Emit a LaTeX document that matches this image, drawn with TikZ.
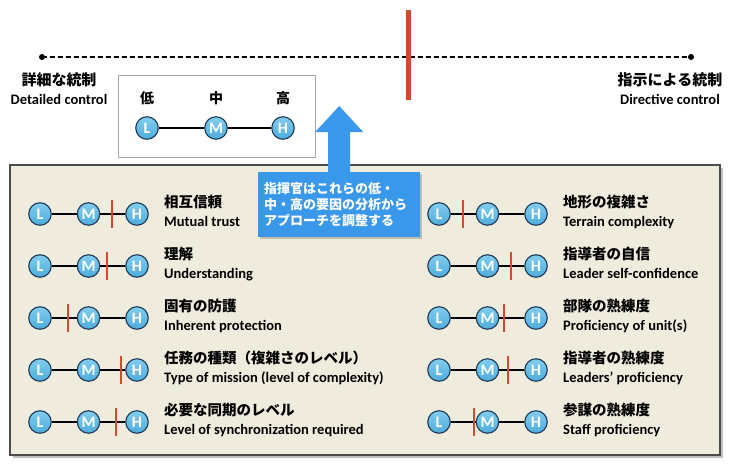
\documentclass[tikz,border=0pt]{standalone}
\usepackage{fontspec}
\setmainfont{Carlito}
\newfontfamily\jp{Noto Sans CJK JP}
\definecolor{cblue}{RGB}{78,172,220}
\definecolor{ctop}{RGB}{130,205,238}
\definecolor{cdark}{RGB}{28,58,88}
\definecolor{cred}{RGB}{214,72,44}
\definecolor{beige}{RGB}{239,235,221}
\definecolor{calloutblue}{RGB}{58,152,234}
\tikzset{
  lmh/.style={circle, top color=ctop, bottom color=cblue, draw=cdark, line width=1.1pt, minimum size=22.5pt, inner sep=0pt,
    text=white, font=\bfseries\fontsize{16}{16}\selectfont},
  conn/.style={line width=1.5pt, black},
  redtick/.style={cred, line width=2pt},
  jpt/.style={anchor=base west, inner sep=0pt, font=\jp\bfseries\fontsize{14.5}{14.5}\selectfont},
  ent/.style={anchor=base west, inner sep=0pt, font=\bfseries\fontsize{14.5}{14.5}\selectfont},
  toplabjp/.style={inner sep=0pt, font=\jp\bfseries\fontsize{15}{15}\selectfont},
  toplaben/.style={inner sep=0pt, font=\bfseries\fontsize{14.5}{14.5}\selectfont},
}
\newcommand\scalerow[6]{%
  \node[lmh] (#1L) at (#2,#3) {L};
  \node[lmh] (#1M) at (#2+48.5,#3) {M};
  \node[lmh] (#1H) at (#2+97,#3) {H};
  \draw[conn] (#1L) -- (#1M);
  \draw[conn] (#1M) -- (#1H);
  \coordinate (#1t1) at (#4,#3-14);
  \coordinate (#1t2) at (#4,#3+14);
  \draw[redtick] (#1t1) -- (#1t2);
  \node[jpt] (#1jp) at (#2+124,#3-6.5) {#5};
  \node[ent] (#1en) at (#2+124,#3+12.5) {#6};
}
\begin{document}
\begin{tikzpicture}[x=1pt,y=-1pt]
\useasboundingbox (0,0) rectangle (732,464);
% top scale
\coordinate (dl) at (42,57);
\coordinate (dr) at (691,57);
\draw[line width=1.5pt, dash pattern=on 5pt off 3pt] (dl) -- (dr);
\fill (dl) circle (3pt);
\fill (dr) circle (3pt);
\coordinate (rb1) at (408,10);
\coordinate (rb2) at (408,100);
\draw[cred, line width=5pt] (rb1) -- (rb2);
\node[toplabjp] (djp) at (59,80) {詳細な統制};
\node[toplaben] (den) at (59,99) {Detailed control};
\node[toplabjp] (rjp) at (670,80) {指示による統制};
\node[toplaben] (ren) at (670,99) {Directive control};
% legend
\draw[gray!70, line width=0.8pt, fill=white] (118,75) rectangle (315,157);
\node[toplabjp, font=\jp\bfseries\fontsize{14}{14}\selectfont] (lowlab) at (147,98) {低};
\node[toplabjp, font=\jp\bfseries\fontsize{14}{14}\selectfont] (midlab) at (216,98) {中};
\node[toplabjp, font=\jp\bfseries\fontsize{14}{14}\selectfont] (highlab) at (283,98) {高};
\node[lmh] (legL) at (147,128) {L};
\node[lmh] (legM) at (216,128) {M};
\node[lmh] (legH) at (283,128) {H};
\draw[conn] (legL) -- (legM);
\draw[conn] (legM) -- (legH);
% panel
\fill[black, opacity=0.25] (13,168) rectangle (723,458);
\draw[fill=beige, draw=black!70, line width=1.2pt] (10,165) rectangle (720,455);
% left column
\scalerow{a}{40}{214}{112}{相互信頼}{Mutual trust}
\scalerow{b}{40}{266}{107}{理解}{Understanding}
\scalerow{c}{40}{318}{68}{固有の防護}{Inherent protection}
\scalerow{d}{40}{370}{121}{任務の種類（複雑さのレベル）}{Type of mission (level of complexity)}
\scalerow{e}{40}{422}{116}{必要な同期のレベル}{Level of synchronization required}
% right column
\scalerow{f}{439}{214}{463}{地形の複雑さ}{Terrain complexity}
\scalerow{g}{439}{266}{511}{指導者の自信}{Leader self-confidence}
\scalerow{h}{439}{318}{504}{部隊の熟練度}{Proficiency of unit(s)}
\scalerow{i}{439}{370}{508}{指導者の熟練度}{Leaders’ proficiency}
\scalerow{j}{439}{422}{474}{参謀の熟練度}{Staff proficiency}
% callout
\fill[black, opacity=0.2] (260,174) rectangle (422,239);
\node[fill=calloutblue, text=white, text width=150pt, inner xsep=6pt, inner ysep=0pt,
  minimum height=65pt, align=left, anchor=north west,
  font=\jp\bfseries\fontsize{13}{16}\selectfont] (callout) at (258,172)
  {指揮官はこれらの低・\\中・高の要因の分析から\\アプローチを調整する};
\fill[calloutblue] ([xshift=-11pt,yshift=-1pt]callout.north) -- ++(0,-41) -- ++(-13,0)
  -- ([yshift=66pt]callout.north) -- ++(24,26) -- ++(-13,0) -- ([xshift=11pt,yshift=-1pt]callout.north) -- cycle;
\end{tikzpicture}
\end{document}
